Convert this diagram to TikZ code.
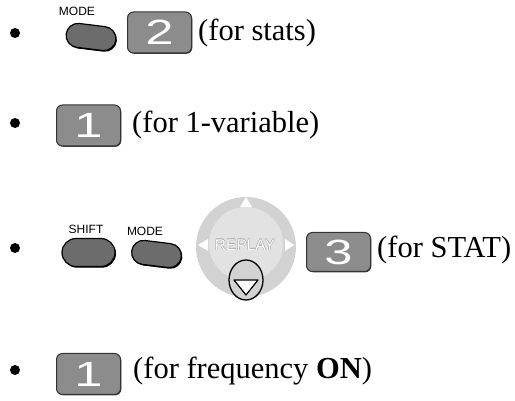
\documentclass[tikz,border=0pt]{standalone}
\usepackage{fontspec}
\setmainfont{Liberation Serif}
\newfontfamily\keyfont{Liberation Sans}
\usetikzlibrary{shapes.misc,shadows}

\definecolor{keygray}{RGB}{140,140,140}
\definecolor{softgray}{RGB}{108,108,108}
\definecolor{ringgray}{RGB}{210,210,210}
\definecolor{discgray}{RGB}{226,226,226}

\tikzset{
  numkey/.style={draw=black!80, line width=1pt, fill=keygray, rounded corners=6pt,
    minimum width=64pt, minimum height=41pt, inner sep=0pt, text=white,
    font=\keyfont\fontsize{35}{35}\selectfont,
    drop shadow={shadow xshift=0.8pt, shadow yshift=-0.8pt, opacity=1, fill=black!75}},
  softkey/.style={rounded rectangle, draw=black, line width=1.2pt, fill=softgray,
    minimum width=50pt, minimum height=24pt, inner sep=0pt,
    drop shadow={shadow xshift=1pt, shadow yshift=-1.2pt, opacity=1, fill=black}},
  keylabel/.style={font=\keyfont\fontsize{12}{12}\selectfont, inner sep=0pt},
  padlabel/.style={inner sep=0pt, font=\keyfont\fontsize{15.5}{15.5}\selectfont},
  itemtext/.style={anchor=base west, inner sep=0pt, font=\fontsize{30.5}{30.5}\selectfont},
  dot/.style={circle, fill=black, inner sep=0pt, minimum size=10pt}
}
\newcommand{\keydigit}[1]{\scalebox{1.45}[1]{#1}}

\begin{document}
\begin{tikzpicture}[x=1pt, y=-1pt]
  \useasboundingbox (0,0) rectangle (515,401);

  % row 1
  \node[dot] (b1) at (15,33) {};
  \node[softkey, rotate=-7] (mode1) at (91,37) {};
  \node[keylabel] (mode1lbl) at (77,11) {MODE};
  \node[numkey] (k2) at (159.5,32.5) {\keydigit{2}};
  \node[itemtext] (t1) at (198,41) {(for stats)};

  % row 2
  \node[dot] (b2) at (15,123) {};
  \node[numkey] (k1a) at (88.5,125.5) {\keydigit{1}};
  \node[itemtext] (t2) at (132,133) {(for 1-variable)};

  % row 3
  \node[dot] (b3) at (15,248) {};
  \node[softkey, minimum width=53pt, minimum height=28pt] (shift) at (88.5,252.5) {};
  \node[keylabel] (shiftlbl) at (86,229) {SHIFT};
  \node[softkey, rotate=-7] (mode2) at (156.5,254) {};
  \node[keylabel] (mode2lbl) at (145,231) {MODE};

  % replay pad
  \fill[ringgray] (246,247) circle (50pt);
  \fill[discgray] (246,244) circle (37pt);
  \fill[white] (240,207) -- (252,207) -- (246,197) -- cycle;
  \fill[white] (208,239) -- (208,251) -- (198,245) -- cycle;
  \fill[white] (285,239) -- (285,251) -- (294,245) -- cycle;
  \foreach \dx/\dy [count=\i] in {0.5/0,-0.5/0,0/0.5,0/-0.5}
    \node[padlabel, text=black!35] (rp\i) at (245+\dx,245+\dy) {REPLAY};
  \node[padlabel, text=white] (replay) at (245,245) {REPLAY};
  \draw[line width=1.3pt, fill=ringgray] (246,280) ellipse [x radius=17pt, y radius=20pt];
  \draw[line width=1.2pt, fill=white, line join=round] (234,280) -- (258,280) -- (246,295) -- cycle;

  \node[numkey, minimum height=39pt] (k3) at (338.5,252) {\keydigit{3}};
  \node[itemtext] (t3) at (377,258) {(for STAT)};

  % row 4
  \node[dot] (b4) at (15,370) {};
  \node[numkey] (k1b) at (88.5,374) {\keydigit{1}};
  \node[itemtext] (t4) at (133,378) {(for frequency \textbf{ON})};
\end{tikzpicture}
\end{document}
